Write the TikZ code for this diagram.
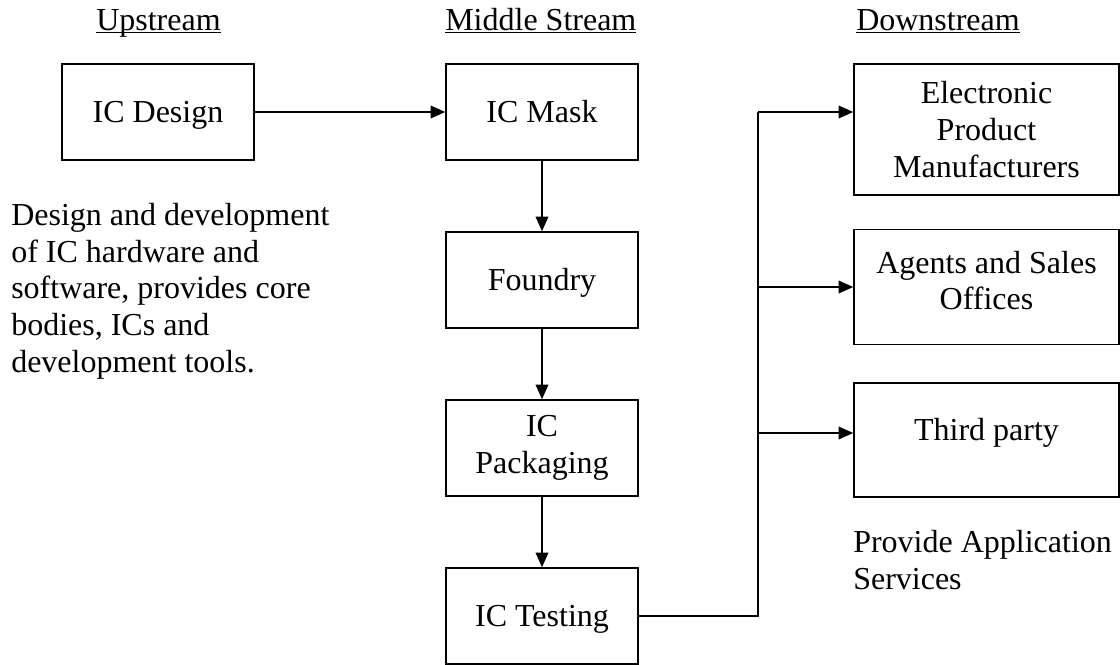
\documentclass[tikz,border=0pt]{standalone}
\usepackage{fontspec}
\setmainfont{Liberation Serif}
\usepackage{tikz}
\usetikzlibrary{arrows.meta, positioning}

\begin{document}
\begin{tikzpicture}[x=0.75pt, y=-0.75pt,
    font=\fontsize{24pt}{27.5pt}\selectfont,
    stagebox/.style={draw, line width=1.15pt, minimum width=144pt, minimum height=72pt, align=center, inner sep=0pt},
    oneline/.style={text height=15pt, text depth=0pt},
    sinkbox/.style={draw, line width=1.15pt, minimum width=198.75pt, align=center, inner sep=0pt},
    arr/.style={line width=1.15pt, -{Triangle[length=11pt, width=9.5pt]}},
    head/.style={anchor=base west, inner sep=0pt}]
    \useasboundingbox (0,0) rectangle (1120,664);

    % headings
    \node[head] (hup) at (96,30) {\underline{\smash{Upstream}}};
    \node[head] (hmid) at (445,30) {\underline{\smash{Middle Stream}}};
    \node[head] (hdown) at (856,30) {\underline{\smash{Downstream}}};

    % upstream
    \node[stagebox, oneline] (design) at (158,112) {IC Design};
    \node[anchor=north west, align=left, inner sep=0pt] (designtxt) at (11,203)
        {Design and development\\of IC hardware and\\software, provides core\\bodies, ICs and\\development tools.};

    % middle stream
    \node[stagebox, oneline] (mask) at (542,112) {IC Mask};
    \node[stagebox, oneline] (foundry) at (542,280) {Foundry};
    \node[stagebox] (packaging) at (542,448) {IC\\Packaging};
    \node[stagebox, oneline] (testing) at (542,616) {IC Testing};

    % downstream
    \node[sinkbox, minimum height=98.25pt] (maker) at (986.5,129.5) {Electronic\\Product\\Manufacturers};
    \node[sinkbox, minimum height=86.25pt] (agents) at (986.5,287) {Agents and Sales\\Offices\rule[-10pt]{0pt}{10pt}};
    \node[sinkbox, minimum height=85.5pt, text height=8pt, text depth=8pt] (third) at (986.5,440) {Third party};
    \node[anchor=north west, align=left, inner sep=0pt] (servtxt) at (853,530)
        {Provide Application\\Services};

    % flow
    \draw[arr] (design) -- (mask);
    \draw[arr] (mask) -- (foundry);
    \draw[arr] (foundry) -- (packaging);
    \draw[arr] (packaging) -- (testing);

    % bus to downstream
    \coordinate (bus) at (758,112);
    \draw[line width=1.15pt] (testing.east) -| (bus);
    \draw[arr] (bus) -- (maker.west |- bus);
    \draw[arr] (bus |- agents.west) -- (agents.west);
    \draw[arr] ([yshift=5.25pt]bus |- third.west) -- ([yshift=5.25pt]third.west);
\end{tikzpicture}
\end{document}
